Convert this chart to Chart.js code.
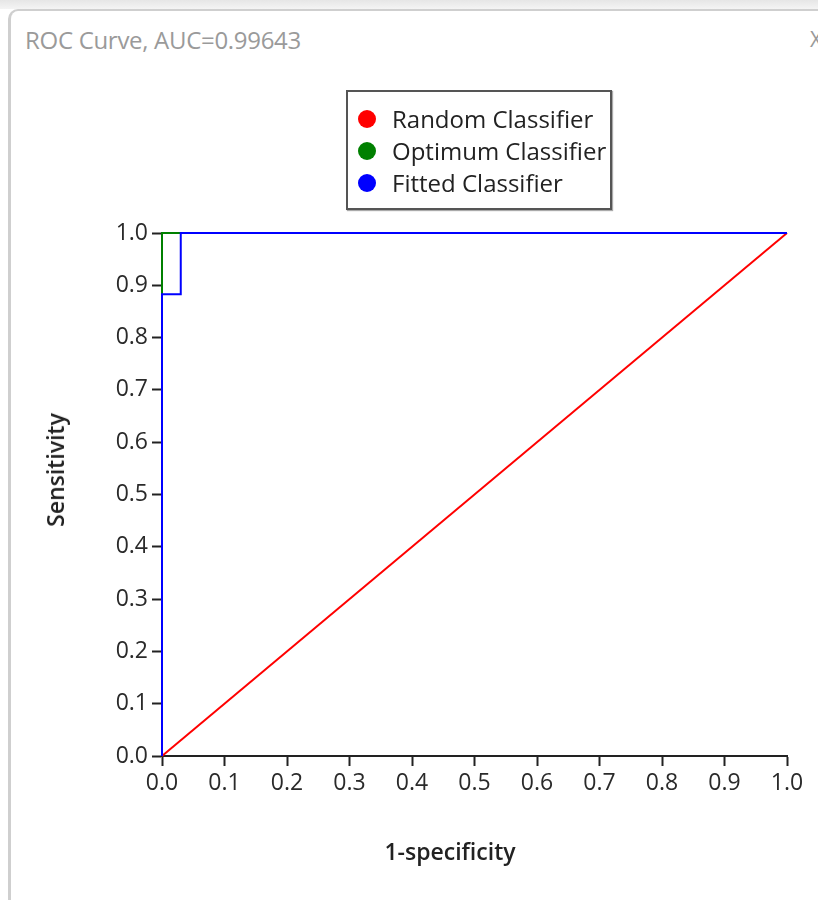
<!DOCTYPE html>
<html>
<head>
<meta charset="utf-8">
<script src="https://cdn.jsdelivr.net/npm/chart.js@4.4.1/dist/chart.umd.min.js"></script>
<style>
  body { margin: 0; background: #fff; font-family: "Open Sans", sans-serif; }
  #wrap { position: relative; width: 818px; height: 900px; overflow: hidden; background: #fff; }
  #topShade { position: absolute; left: 0; top: 0; width: 818px; height: 9px; background: linear-gradient(#e6e6e6, #f4f4f4); }
  #frame { position: absolute; left: 8px; top: 9px; width: 830px; height: 900px; border-left: 3px solid #cfcfcf; border-top: 2px solid #cfcfcf; border-top-left-radius: 10px; background: #fff; }
  #title { position: absolute; left: 25px; top: 23px; font-size: 24px; color: #9a9a9a; white-space: nowrap; letter-spacing: -0.3px; }
  #closeX { position: absolute; left: 810px; top: 25px; font-size: 21px; color: #999; }
  canvas { position: absolute; left: 0; top: 0; }
  #legend { position: absolute; left: 346px; top: 90px; width: 262px; height: 116px; border: 2px solid #555; box-shadow: 1px 1px 1px #aaa; background: #fff; }
  .row { position: absolute; left: 0; height: 32px; white-space: nowrap; font-size: 24px; color: #222; }
  .dot { position: absolute; left: 10px; top: 7px; width: 18px; height: 18px; border-radius: 50%; }
  .lbl { position: absolute; left: 44px; top: 0; line-height: 32px; }
  .axTitle { position: absolute; font-size: 23px; font-weight: 600; color: #222; white-space: nowrap; transform: translate(-50%, -50%); }
</style>
</head>
<body>
<div id="wrap">
  <div id="topShade"></div>
  <div id="frame"></div>
  <div id="title">ROC Curve, AUC=0.99643</div>
  <div id="closeX">X</div>
  <canvas id="roc" width="818" height="900"></canvas>
  <div id="legend"></div>
  <div class="axTitle" style="left:55px; top:470px; transform: translate(-50%, -50%) rotate(-90deg);">Sensitivity</div>
  <div class="axTitle" style="left:450px; top:851px;">1-specificity</div>
</div>
<script>
const seriesNames = ['Random Classifier', 'Optimum Classifier', 'Fitted Classifier'];
const seriesColors = ['#ff0000', '#008000', '#0000ff'];

// 1-specificity / sensitivity pairs
const randomX = [0, 1];
const randomY = [0, 1];
const optimumX = [0, 0, 1];
const optimumY = [0, 1, 1];
const fittedX = [0, 0, 0.03, 0.03, 1];
const fittedY = [0, 0.883, 0.883, 1, 1];

const axisTicks = [0, 0.1, 0.2, 0.3, 0.4, 0.5, 0.6, 0.7, 0.8, 0.9, 1.0];

function pairs(xs, ys) {
    return xs.map((x, i) => ({ x: x, y: ys[i] }));
}

const seriesData = [pairs(randomX, randomY), pairs(optimumX, optimumY), pairs(fittedX, fittedY)];

const legendEl = document.getElementById('legend');
seriesNames.forEach((name, i) => {
    const row = document.createElement('div');
    row.className = 'row';
    row.style.top = (11 + i * 32) + 'px';
    row.innerHTML = '<span class="dot" style="background:' + seriesColors[i] + '"></span><span class="lbl">' + name + '</span>';
    legendEl.appendChild(row);
});

const tickFont = { family: 'Open Sans', size: 23 };

function axisOpts() {
    return {
        type: 'linear',
        min: 0,
        max: 1,
        afterBuildTicks: (scale) => { scale.ticks = axisTicks.map(v => ({ value: v })); },
        ticks: {
            color: '#2a2a2a',
            font: tickFont,
            padding: 4,
            callback: (v) => Number(v).toFixed(1)
        },
        grid: {
            drawOnChartArea: false,
            drawTicks: true,
            tickLength: 10,
            tickColor: '#222',
            tickWidth: 2
        },
        border: { color: '#222', width: 2 }
    };
}

const xOpts = axisOpts();
xOpts.afterFit = (scale) => { scale.height = 144; };
const yOpts = axisOpts();
yOpts.afterFit = (scale) => { scale.width = 162; };

const ctx = document.getElementById('roc').getContext('2d');
const chart = new Chart(ctx, {
    type: 'scatter',
    data: {
        datasets: seriesNames.map((name, i) => ({
            label: name,
            data: seriesData[i],
            showLine: true,
            borderColor: seriesColors[i],
            backgroundColor: seriesColors[i],
            borderWidth: 2,
            pointRadius: 0,
            pointHoverRadius: 0,
            clip: false,
            order: 3 - i
        }))
    },
    options: {
        responsive: false,
        animation: false,
        layout: { padding: { left: 0, right: 31, top: 233, bottom: 0 } },
        plugins: {
            legend: { display: false },
            tooltip: { enabled: false }
        },
        scales: {
            x: xOpts,
            y: yOpts
        }
    }
});
</script>
</body>
</html>
